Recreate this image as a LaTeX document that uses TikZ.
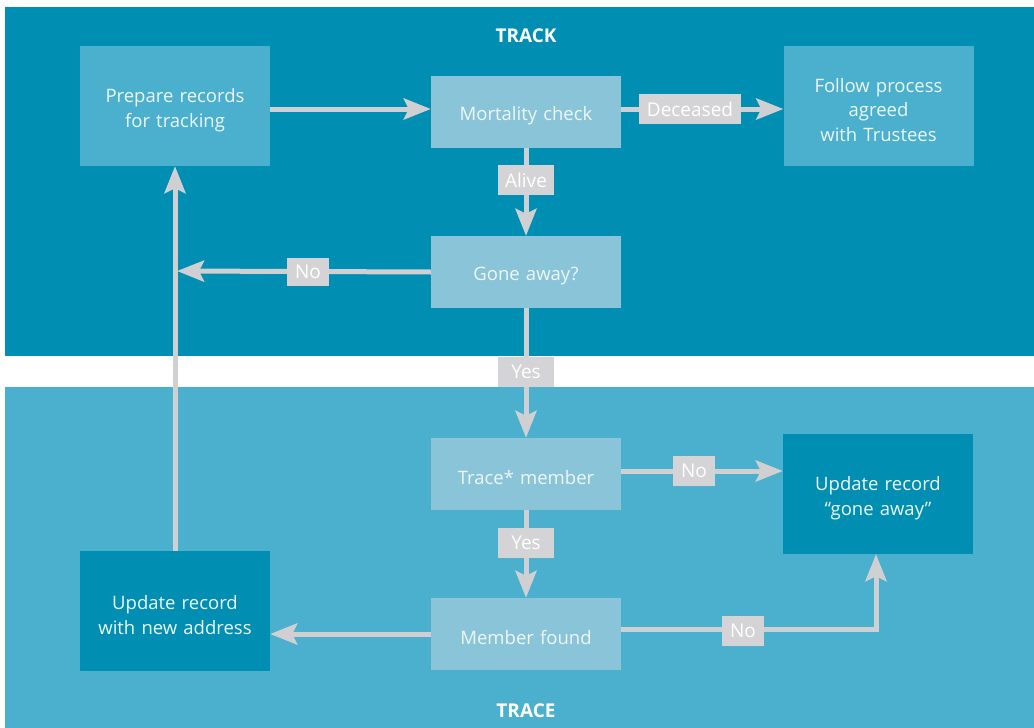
\documentclass[tikz,border=0pt]{standalone}
\usepackage{fontspec}
\setmainfont{Open Sans}
\usetikzlibrary{arrows.meta,positioning}
\definecolor{dark}{HTML}{008FB3}
\definecolor{mid}{HTML}{4BB0CE}
\definecolor{light}{HTML}{8AC4D9}
\definecolor{labgray}{HTML}{D4D4D6}
\definecolor{arrgray}{HTML}{D0D0D2}
\definecolor{txt}{HTML}{EEF7FA}
\begin{document}
\begin{tikzpicture}[x=1pt,y=-1pt,
  box/.style={inner sep=0pt,minimum width=190pt,text width=185pt,align=center,text=txt,font=\fontsize{18.5}{24.5}\selectfont,execute at begin node={\rule{0pt}{22pt}}},
  bigbox/.style={box,minimum height=120pt},
  smallbox/.style={box,minimum height=72pt,fill=light},
  lab/.style={fill=labgray,text=white,inner sep=0pt,minimum height=30pt,font=\fontsize{19}{22}\selectfont},
  arr/.style={draw=arrgray,line width=5pt,-{Stealth[width=21pt,length=27pt,inset=5pt]}},
  title/.style={text=white,font=\bfseries\fontsize{19}{22}\selectfont}]
\useasboundingbox (0,0) rectangle (1034,728);
\fill[white] (0,0) rectangle (1034,728);
\fill[dark] (5,7) rectangle (1034,356);
\fill[mid] (5,387) rectangle (1034,728);
\node[title] (track) at (526,36) {TRACK};
\node[title] (trace) at (526,711) {TRACE};
% boxes
\node[bigbox,fill=mid] (prep) at (175,106) {Prepare records\\for tracking};
\node[smallbox] (mort) at (526,112) {Mortality check};
\node[bigbox,fill=mid] (follow) at (878.5,106) {Follow process\\agreed\\with Trustees};
\node[smallbox] (gone) at (526,272) {Gone away?};
\node[smallbox] (tracem) at (526,474) {Trace* member};
\node[bigbox,fill=dark] (updga) at (878,494) {Update record\\``gone away''};
\node[smallbox] (found) at (526,634) {Member found};
\node[bigbox,fill=dark] (updnew) at (175,611) {Update record\\with new address};
\coordinate (j1) at (177,271);
% connectors
\draw[arr] ([yshift=-3pt]prep.east) -- ([yshift=3pt]mort.west);
\draw[arr] ([yshift=3pt]mort.east) -- ([yshift=-3pt]follow.west);
\draw[arr] (mort.south) -- (gone.north);
\draw[arr] (gone.west) -- (j1);
\draw[arr] (updnew.north) -- (prep.south);
\draw[arr] (gone.south) -- (tracem.north);
\draw[arr] ([yshift=3pt]tracem.east) -- ([yshift=23pt]updga.west);
\draw[arr] (tracem.south) -- (found.north);
\draw[arr] (found.west) -- ([yshift=-23pt]updnew.east);
\draw[arr] ([yshift=5pt]found.east) -| ([xshift=-2pt]updga.south);
% labels
\node[lab,minimum width=102pt] (ldec) at (690,109) {Deceased};
\node[lab,minimum width=56pt] (lalive) at (526,180) {Alive};
\node[lab,minimum width=42pt,minimum height=28pt] (lno1) at (308,272) {No};
\node[lab,minimum width=56pt] (lyes1) at (526,372) {Yes};
\node[lab,minimum width=42pt] (lno2) at (694,471) {No};
\node[lab,minimum width=56pt] (lyes2) at (526,543) {Yes};
\node[lab,minimum width=42pt] (lno3) at (743,631) {No};
\end{tikzpicture}
\end{document}
